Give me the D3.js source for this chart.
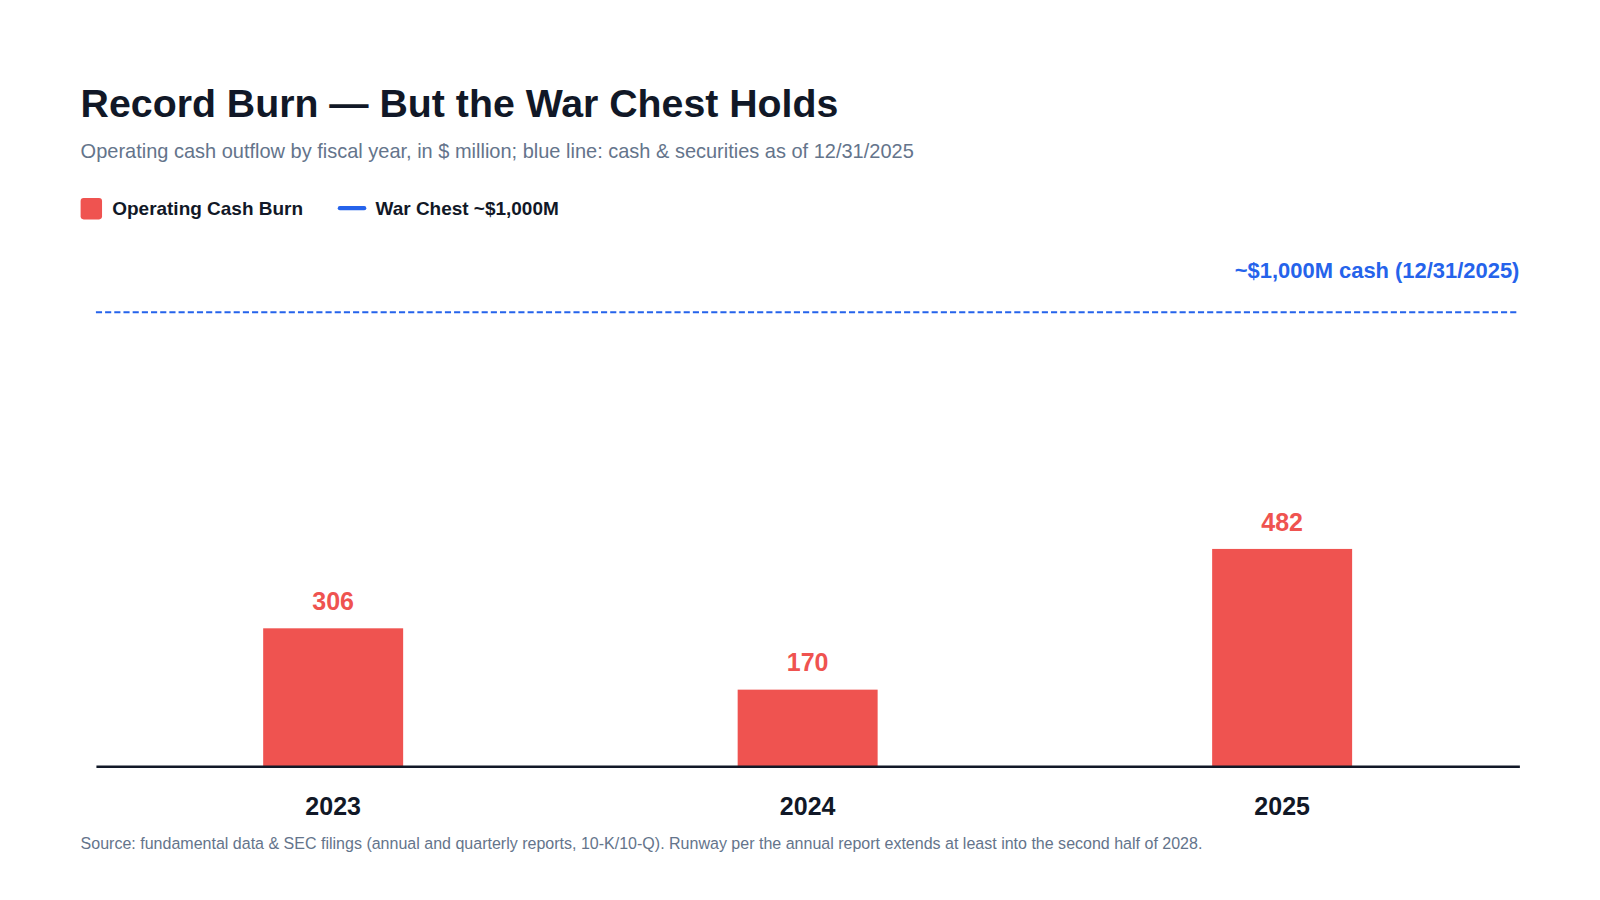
<!doctype html>
<html lang="en">
<head>
<meta charset="utf-8">
<script src="https://d3js.org/d3.v7.min.js"></script>
<style>
  body { margin:0; background:#fff; font-family:"Liberation Sans", Arial, sans-serif; }
</style>
</head>
<body>
<script>
// data
var years = ["2023", "2024", "2025"];
var burn = [306, 170, 482];
var warChest = 1000;

var W = 1600, H = 900;
var svg = d3.select("body").append("svg").attr("width", W).attr("height", H)
  .append("g").attr("transform", "scale(1.0204)");

var x = d3.scaleBand().domain(years).range([94, 1489]).paddingInner(0.705).paddingOuter(0.3525);
var y = d3.scaleLinear().domain([0, 1000]).range([751, 309]);

// title block
svg.append("text").attr("x", 79).attr("y", 115).attr("font-size", 38.5).attr("font-weight", 700)
  .attr("fill", "#111827").text("Record Burn — But the War Chest Holds");
svg.append("text").attr("x", 79).attr("y", 155).attr("font-size", 19.6)
  .attr("fill", "#64748b").text("Operating cash outflow by fiscal year, in $ million; blue line: cash & securities as of 12/31/2025");

// legend
svg.append("rect").attr("x", 79).attr("y", 194).attr("width", 21).attr("height", 21).attr("rx", 3).attr("fill", "#ef5350");
svg.append("text").attr("x", 110).attr("y", 211).attr("font-size", 18.6).attr("font-weight", 700).attr("fill", "#111827").text("Operating Cash Burn");
svg.append("line").attr("x1", 333).attr("x2", 357).attr("y1", 204).attr("y2", 204).attr("stroke", "#2563eb").attr("stroke-width", 4).attr("stroke-linecap", "round");
svg.append("text").attr("x", 368).attr("y", 211).attr("font-size", 18.6).attr("font-weight", 700).attr("fill", "#111827").text("War Chest ~$1,000M");

// war chest line
svg.append("line").attr("x1", 94).attr("x2", 1489).attr("y1", y(warChest) - 3).attr("y2", y(warChest) - 3)
  .attr("stroke", "#2563eb").attr("stroke-width", 2).attr("stroke-dasharray", "6,3");
svg.append("text").attr("x", 1489).attr("y", y(warChest) - 37).attr("text-anchor", "end")
  .attr("font-size", 21.5).attr("font-weight", 700).attr("fill", "#2563eb").text("~$1,000M cash (12/31/2025)");

// bars
svg.selectAll(".bar").data(years).enter().append("rect")
  .attr("x", function(d) { return x(d); })
  .attr("width", x.bandwidth())
  .attr("y", function(d, i) { return y(burn[i]); })
  .attr("height", function(d, i) { return y(0) - y(burn[i]); })
  .attr("fill", "#ef5350");
svg.selectAll(".val").data(years).enter().append("text")
  .attr("x", function(d) { return x(d) + x.bandwidth() / 2; })
  .attr("y", function(d, i) { return y(burn[i]) - 18; })
  .attr("text-anchor", "middle").attr("font-size", 24.5).attr("font-weight", 700).attr("fill", "#ef5350")
  .text(function(d, i) { return burn[i]; });

// x axis
var ax = svg.append("g").attr("transform", "translate(0," + y(0) + ")").call(d3.axisBottom(x).tickSize(0).tickPadding(30));
ax.select(".domain").attr("stroke", "#111827").attr("stroke-width", 2.5);
ax.selectAll("text").attr("font-size", 24.5).attr("font-weight", 700).attr("fill", "#111827")
  .attr("font-family", "Liberation Sans, Arial, sans-serif");

svg.append("text").attr("x", 79).attr("y", 832).attr("font-size", 15.7).attr("fill", "#64748b")
  .text("Source: fundamental data & SEC filings (annual and quarterly reports, 10-K/10-Q). Runway per the annual report extends at least into the second half of 2028.");
</script>
</body>
</html>
